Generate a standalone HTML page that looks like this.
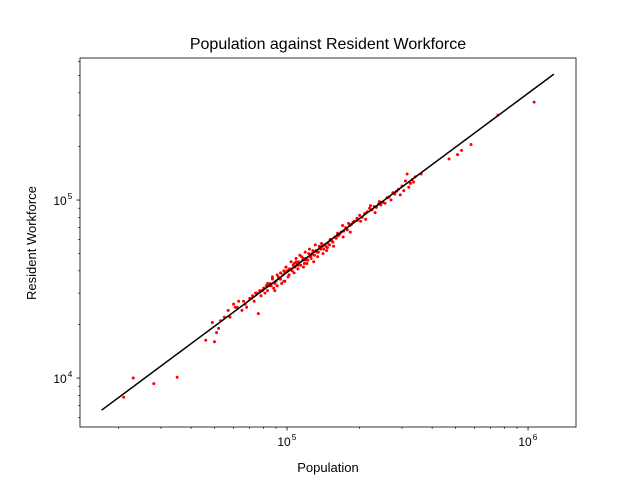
<!DOCTYPE html>
<html><head><meta charset="utf-8"><style>
body{margin:0;background:#fff;}
svg{display:block;font-family:"Liberation Sans","DejaVu Sans",sans-serif;}
</style></head><body>
<svg id="chart" width="640" height="480">
<rect width="640" height="480" fill="#fff"/>
<text x="328" y="49" text-anchor="middle" font-size="16">Population against Resident Workforce</text>
<text x="328" y="472" text-anchor="middle" font-size="13">Population</text>
<text transform="translate(36,243) rotate(-90)" text-anchor="middle" font-size="13">Resident Workforce</text>
<g id="plot"></g>
</svg>
<script>
// Data (thousands)
const population = [21,23,28,35,46,50,52,49,53,55,57,60,62,63,65,66,68,70,72,73,75,76,78,80,82,83,85,86,88,90,92,93,95,96,98,100,101,103,105,106,108,110,112,114,116,118,120,122,125,127,130,132,135,137,140,142,145,148,150,152,155,158,160,165,168,170,175,178,180,185,190,195,200,205,210,215,220,225,230,235,240,245,250,260,270,275,280,290,300,310,315,320,330,340,360,470,510,530,580,750,1060,
 74,79,84,89,94,97,99,104,107,111,115,119,123,128,133,138,143,147,153,162,172,182,98,91,87,102,109,117,126,136,
 51,58,61,67,71,77,81,83,87,89,91,94,97,99,102,104,107,109,111,113,117,119,121,124,126,129,131,134,139,141,146,151,156,163,171,176,183,188,196,202,212,222,232,242,255,265,285,295,305,325,335];
const workforce = [7.8,10,9.3,10.1,16.3,16,19,20.5,21,22,24,26,25,27,24,27,25,28,29,27,30,23,29,32,33,31,34,33,32,35,37,36,34,38,39,40,37,41,40,43,42,44,45,43,46,44,47,46,48,50,49,52,51,54,55,53,55,57,56,60,58,62,61,64,66,72,70,68,74,73,76,79,82,80,84,86,90,88,92,91,95,94,97,103,100,110,108,115,120,128,140,118,130,135,140,170,180,190,205,300,355,
 30,31,33,34,36,40,42,41,44,43,48,46,50,52,51,53,56,54,59,65,67,72,35,38,37,41,45,47,49,55,
 18,22,25,26,28,31,30,34,36,31,33,39,35,42,38,45,39,47,41,49,42,51,44,53,47,45,56,48,57,50,52,60,55,63,62,69,66,75,77,76,78,93,85,98,96,104,112,107,113,124,126];
const lineX = [17, 1280];
const lineY = [6.6, 510];
const xTickVals = [1e5, 1e6];
const xTickLabels = ["10","10"];
const yTickVals = [1e4, 1e5];
const L=80,R=576,T=58,B=427;
const xMinL=4.141, xMaxL=6.199, yMinL=3.725, yMaxL=5.798;
function xs(v){return L+(Math.log10(v)-xMinL)/(xMaxL-xMinL)*(R-L);}
function ys(v){return B-(Math.log10(v)-yMinL)/(yMaxL-yMinL)*(B-T);}
const NS="http://www.w3.org/2000/svg";
const g=document.getElementById('plot');
function el(t,a){const e=document.createElementNS(NS,t);for(const k in a)e.setAttribute(k,a[k]);g.appendChild(e);return e;}
for(let i=0;i<population.length;i++){
 const c=el('circle',{cx:xs(population[i]*1000),cy:ys(workforce[i]*1000),r:1.5,fill:'#ff0000'});
 
 
}
const ln=el('line',{x1:xs(lineX[0]*1000),y1:ys(lineY[0]*1000),x2:xs(lineX[1]*1000),y2:ys(lineY[1]*1000),stroke:'#000','stroke-width':1.5});


const fr=el('rect',{x:L,y:T,width:R-L,height:B-T,fill:'none',stroke:'#000','stroke-width':0.8});


for(let d=4;d<=6;d++){for(let m=1;m<10;m++){const v=m*Math.pow(10,d);const x=xs(v);if(x<L||x>R)continue;
 const t=el('line',{x1:x,x2:x,y1:B,y2:B+(m==1?3.5:2),stroke:'#000','stroke-width':m==1?0.8:0.6});
 
 }}
xTickVals.forEach((v,i)=>{const x=xs(v);const tx=el('text',{x:x-3,y:B+19,'text-anchor':'middle','font-size':12});tx.textContent=xTickLabels[i];
 
 
 const s=el('text',{x:x+7,y:B+13,'text-anchor':'middle','font-size':8.5});s.textContent=String(Math.log10(v));
 
 });
for(let d=3;d<=5;d++){for(let m=1;m<10;m++){const v=m*Math.pow(10,d);const y=ys(v);if(y<T||y>B)continue;
 const t=el('line',{x1:L,x2:L-(m==1?3.5:2),y1:y,y2:y,stroke:'#000','stroke-width':m==1?0.8:0.6});
 
 }}
yTickVals.forEach(v=>{const y=ys(v);const tx=el('text',{x:L-20,y:y+5,'text-anchor':'middle','font-size':12});tx.textContent='10';
 
 
 const s=el('text',{x:L-10,y:y-1,'text-anchor':'middle','font-size':8.5});s.textContent=String(Math.log10(v));
 
 });
</script>
</body></html>
